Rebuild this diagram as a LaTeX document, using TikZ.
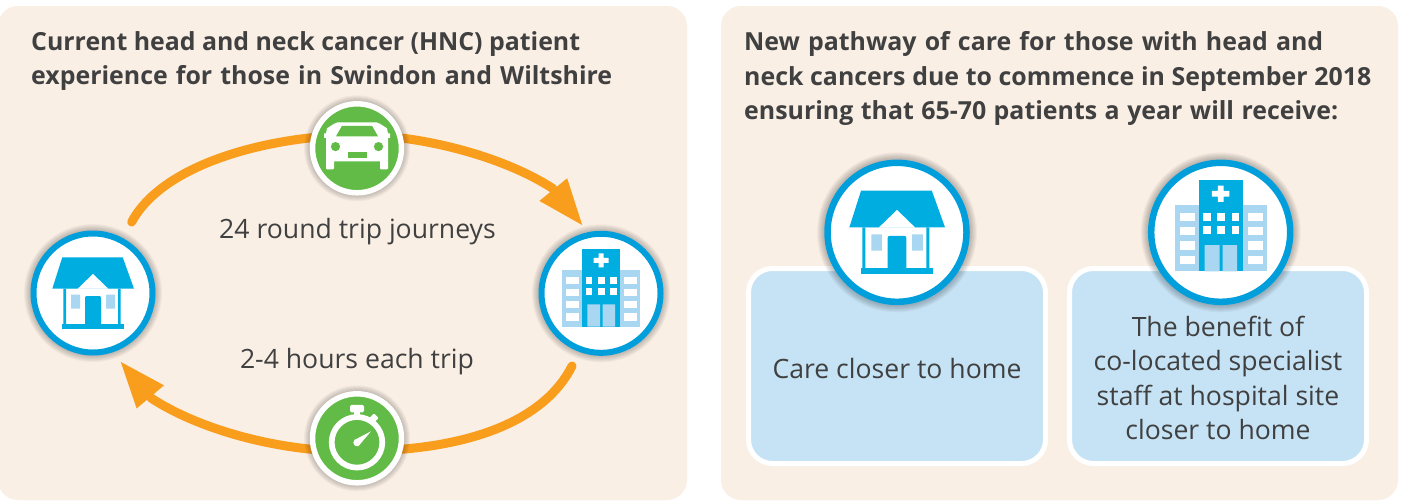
\documentclass[tikz,border=0pt]{standalone}
\usepackage{fontspec}
\setmainfont{Open Sans}
\usetikzlibrary{arrows.meta}
\definecolor{panelc}{HTML}{F9EFE5}
\definecolor{boxc}{HTML}{C5E3F5}
\definecolor{orangec}{HTML}{F99D1C}
\definecolor{cyanc}{HTML}{00ADE1}
\definecolor{ringc}{HTML}{009FDC}
\definecolor{lightc}{HTML}{A9D6F1}
\definecolor{greenc}{HTML}{62BB46}
\definecolor{textc}{HTML}{404041}
\newcommand{\fitline}[2]{\makebox[#1pt][s]{#2}}
\tikzset{
  panel/.style={fill=panelc,draw=none,rounded corners=20pt},
  bluebox/.style={fill=boxc,draw=white,line width=5pt,rounded corners=24pt},
  flow/.style={draw=orangec,line width=9pt,line cap=round},
  flowhead/.style={flow,-{Triangle[length=47pt,width=33pt]}},
  bluering/.style={circle,fill=white,draw=ringc,inner sep=0pt,outer sep=0pt},
  greenring/.style={circle,fill=greenc,draw=white,inner sep=0pt,outer sep=0pt},
  body/.style={text=textc,font=\fontsize{26.6}{34.5}\selectfont,align=center,inner sep=0pt},
  heading/.style={text=textc,font=\bfseries\fontsize{24.9}{34.8}\selectfont,align=left,inner sep=0pt,anchor=north west},
  pics/househ/.style={code={
    \fill[cyanc] (-30.7,-35.7) -- (29.7,-35.7) -- (41,-4.3) -- (15.5,-4.3) -- (0,-19.3) -- (-15.5,-4.3) -- (-40.7,-4.3) -- cycle;
    \fill[cyanc,even odd rule] (-29.7,-4.3) rectangle (27.7,32) (-27,-4.3) rectangle (25,32);
    \fill[cyanc] (-30.7,30.7) rectangle (31,35.7);
    \fill[lightc] (-22,1.7) rectangle (-13,15.7) (13,1.7) rectangle (22,15.7);
    \fill[cyanc] (-8,31) -- (-8,7) .. controls (-8,3) .. (-4,3) -- (4,3) .. controls (8,3) .. (8,7) -- (8,31) -- cycle;
  }},
  pics/hospital/.style={code={
    \fill[lightc] (-39,-23) rectangle (39.3,33.3);
    \fill[cyanc] (-18.7,-44.7) rectangle (19,33.3);
    \fill[white] (-2.5,-40) rectangle (2.5,-26) (-7.5,-35.5) rectangle (7.5,-30.5);
    \foreach \yy in {-16.7,-5.3} \foreach \xx in {-15.3,-3,9.3}
      \fill[white] (\xx,\yy) rectangle ++(6.7,7);
    \fill[lightc] (-13.7,11) rectangle (-1,33.3) (1.7,11) rectangle (14,33.3);
    \foreach \yy in {-16.7,-4.7,7.7,20} {
      \fill[white] (-35,\yy) rectangle ++(13,7.2);
      \fill[white] (23,\yy) rectangle ++(13,7.2);
    }
  }},
  pics/carg/.style={code={
    \fill[white] (-30,-20) -- (-23,-24.5) .. controls (-20,-26) .. (-15,-26) -- (15,-26) .. controls (20,-26) .. (23,-24.5) -- (30,-20) -- (31,-15) -- (31,20) .. controls (31,21) .. (30,21) -- (24,21) .. controls (23,21) .. (23,20) -- (23,13) -- (-23,13) -- (-23,20) .. controls (-23,21) .. (-24,21) -- (-30,21) .. controls (-31,21) .. (-31,20) -- (-31,-15) -- cycle;
    \fill[white] (-33,-15) rectangle (-20,-10.5) (20,-15) rectangle (33,-10.5);
    \fill[greenc] (-21,-12) -- (-15,-22.5) -- (15,-22.5) -- (21,-12) -- cycle;
    \fill[greenc] (-21.5,-1.7) circle (4.6) (21.5,-1.7) circle (4.6);
    \fill[greenc] (-9,3.3) rectangle (9.5,9.3);
  }},
  pics/watch/.style={code={
    \draw[white,line width=5.7pt] (0,4) circle (25.3);
    \fill[white,rounded corners=1.5pt] (-7,-33.5) rectangle (7,-26);
    \fill[white] (-3,-27) rectangle (3,-21);
    \fill[white,rotate around={45:(17,-20)},rounded corners=1pt] (13.5,-23.5) rectangle (20.5,-17);
    \fill[white] (0,4.3) circle (3.7);
    \fill[white] (-2.2,1.5) -- (14,-7) -- (2.5,6.5) -- cycle;
  }},
}
\newcommand{\softshadow}[3]{%
  \foreach \rr in {7,6,5,4,3,2,1}
    \fill[black,opacity=0.035] (#1,#2) circle ({#3+\rr});
}
\begin{document}
\begin{tikzpicture}[x=1pt,y=-1pt]
\useasboundingbox (0,0) rectangle (1404,501);
\fill[white] (0,0) rectangle (1404,501);
\fill[panel] (-2,6) rectangle (687,500);
\fill[panel] (721,6) rectangle (1398,500);

\node[heading] (t1) at (31,31) {\fitline{549}{Current head and neck cancer (HNC) patient}\\\fitline{581}{experience for those in Swindon and Wiltshire}};
\node[heading] (t2) at (744,31) {\fitline{579}{New pathway of care for those with head and}\\\fitline{627}{neck cancers due to commence in September 2018}\\\fitline{594}{ensuring that 65-70 patients a year will receive:}};

\coordinate (startTop) at (131.7,222);
\coordinate (tipTop) at (583,226);
\coordinate (backTop) at (552,188);
\coordinate (startBot) at (572,366);
\coordinate (tipBot) at (120,361);
\coordinate (backBot) at (151.6,398.4);
\coordinate (viaTop) at (357,135);
\coordinate (viaBot) at (357,451);

\path (357,148.3) node[circle,minimum size=90pt,inner sep=0pt] (car) {};
\path (357,438.3) node[circle,minimum size=90pt,inner sep=0pt] (watch) {};

\draw[flow] (startTop) .. controls (162,165) and (265,136) .. (viaTop);
\draw[flowhead] (viaTop) .. controls (420,135) and (501.6,155.6) .. (backTop) -- (tipTop);
\draw[flow] (startBot) .. controls (545,420) and (470,451) .. (viaBot);
\draw[flowhead] (viaBot) .. controls (290,453) and (205,433) .. (backBot) -- (tipBot);

\softshadow{357}{148.3}{46}
\softshadow{357}{438.3}{46}
\softshadow{93}{293}{62}
\softshadow{601}{293.3}{62}

\node[greenring,minimum size=89pt,line width=5.5pt] at (car) {};
\pic at (car.center) {carg};
\node[greenring,minimum size=89pt,line width=5.5pt] at (watch) {};
\pic at (watch.center) {watch};

\node[bluering,minimum size=119pt,line width=6pt] (home1) at (93,293) {};
\pic at (home1.center) {househ};
\node[bluering,minimum size=119pt,line width=6pt] (hosp1) at (601,293.3) {};
\pic at (hosp1.center) {hospital};

\node[body,anchor=base] (lab1) at (357.5,238) {24 round trip journeys};
\node[body,anchor=base] (lab2) at (357,368) {2-4 hours each trip};

\draw[bluebox] (748.5,268.5) rectangle (1045.5,463.5);
\draw[bluebox] (1069.5,268.5) rectangle (1366.5,463.5);

\softshadow{897}{232.3}{73}
\softshadow{1220.7}{232.3}{73}
\node[bluering,minimum size=139pt,line width=6.5pt] (home2) at (897,232.3) {};
\pic[scale=1.17] at (home2.center) {househ};
\node[bluering,minimum size=139pt,line width=6.5pt] (hosp2) at (1220.7,232.3) {};
\pic[scale=1.17] at (hosp2.center) {hospital};

\node[body,anchor=base] (lab3) at (897,378) {Care closer to home};
\node[body,anchor=center] (lab4) at (1218,378) {The benefit of\\co-located specialist\\staff at hospital site\\closer to home};
\end{tikzpicture}
\end{document}
